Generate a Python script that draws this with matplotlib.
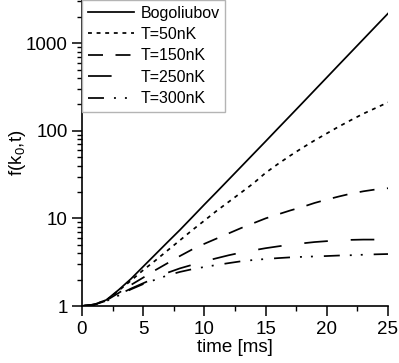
import matplotlib
matplotlib.use("Agg")
import matplotlib.pyplot as plt
from matplotlib.ticker import LogLocator, FixedLocator, MultipleLocator, NullFormatter

plt.rcParams['font.family'] = ['Liberation Sans', 'DejaVu Sans']
plt.rcParams['mathtext.fontset'] = 'custom'
plt.rcParams['mathtext.rm'] = 'Liberation Sans'
plt.rcParams['mathtext.it'] = 'Liberation Sans'
plt.rcParams['lines.scale_dashes'] = False

# time in ms
t = [0, 1, 2, 3, 4, 5, 6, 7, 8, 9, 10, 11, 12, 13, 14, 15, 16, 17, 18, 19, 20, 21, 22, 23, 24, 25]

bogoliubov = [1.00, 1.04, 1.175, 1.53, 2.04, 2.82, 3.89, 5.37, 7.38, 10.3, 14.4, 20.0, 27.9, 38.9,
              54.3, 75.7, 106, 148, 207, 290, 406, 569, 796, 1114, 1560, 2180]
T50 = [1.00, 1.04, 1.17, 1.50, 1.95, 2.57, 3.31, 4.32, 5.62, 7.33, 9.44, 12.2, 15.5, 19.7,
       25.1, 33.1, 41.7, 51.9, 63.8, 77.6, 93.3, 112, 133, 157, 182, 211]
T150 = [1.00, 1.04, 1.16, 1.41, 1.74, 2.11, 2.57, 3.09, 3.72, 4.42, 5.13, 5.89, 6.76, 7.76,
        8.81, 10.0, 11.1, 12.3, 13.5, 15.0, 16.4, 17.8, 19.2, 20.4, 21.4, 22.1]
T250 = [1.00, 1.035, 1.15, 1.35, 1.58, 1.82, 2.09, 2.40, 2.69, 2.95, 3.24, 3.51, 3.80, 4.07,
        4.32, 4.57, 4.79, 5.01, 5.19, 5.37, 5.50, 5.62, 5.69, 5.73, 5.73, 5.70]
T300 = [1.00, 1.035, 1.14, 1.32, 1.55, 1.78, 2.00, 2.24, 2.45, 2.63, 2.79, 2.94, 3.09, 3.24,
        3.35, 3.44, 3.52, 3.59, 3.64, 3.68, 3.72, 3.77, 3.80, 3.85, 3.89, 3.92]

labels = ['Bogoliubov', 'T=50nK', 'T=150nK', 'T=250nK', 'T=300nK']

fig = plt.figure(figsize=(3.99, 3.63), dpi=100)
ax = fig.add_axes([0.2055, 0.157, 0.7669, 0.843])

lw = 1.25
ax.plot(t, bogoliubov, color='black', lw=lw, linestyle='-', label=labels[0])
ax.plot(t, T50, color='black', lw=lw, linestyle=(0, (2.8, 3.4)), label=labels[1])
ax.plot(t, T150, color='black', lw=lw, linestyle=(0, (10.8, 9.0)), label=labels[2])
ax.plot(t, T250, color='black', lw=lw, linestyle=(0, (17, 16.5)), label=labels[3])
ax.plot(t, T300, color='black', lw=lw, linestyle=(0, (11.5, 7.2, 1.4, 6.5, 1.4, 7.9)), label=labels[4])

ax.set_yscale('log')
ax.set_xlim(0, 25)
ax.set_ylim(1, 3110)

ax.xaxis.set_major_locator(MultipleLocator(5))
ax.xaxis.set_minor_locator(MultipleLocator(2.5))
ax.yaxis.set_major_locator(FixedLocator([1, 10, 100, 1000]))
ax.set_yticklabels(['1', '10', '100', '1000'])
ax.yaxis.set_minor_locator(LogLocator(base=10, subs=[2, 3, 4, 5, 6, 7, 8, 9]))
ax.yaxis.set_minor_formatter(NullFormatter())

ax.spines['top'].set_visible(False)
ax.spines['right'].set_visible(False)
for s in ['left', 'bottom']:
    ax.spines[s].set_linewidth(1.2)

ax.tick_params(which='major', direction='out', length=7.2, width=1.1, labelsize=13.5)
ax.tick_params(which='minor', direction='out', length=3.8, width=1.0)
ax.tick_params(axis='y', which='major', pad=3)
ax.tick_params(axis='x', which='major', pad=3.5)

ax.set_xlabel('time [ms]', fontsize=13.5)
ax.set_ylabel(r'f(k$_\mathregular{0}$,t)', fontsize=13.5)
ax.yaxis.set_label_coords(-0.178, 0.5)
ax.xaxis.set_label_coords(0.5, -0.108)

leg = ax.legend(loc='upper left', bbox_to_anchor=(0, 1), borderaxespad=0, fontsize=11.5,
                frameon=True, fancybox=False, edgecolor='#b4b4b4', framealpha=1,
                handlelength=2.9, handletextpad=0.4, labelspacing=0.4, borderpad=0.35)
leg.get_frame().set_linewidth(1.0)

fig.savefig('out.png', dpi=100)
